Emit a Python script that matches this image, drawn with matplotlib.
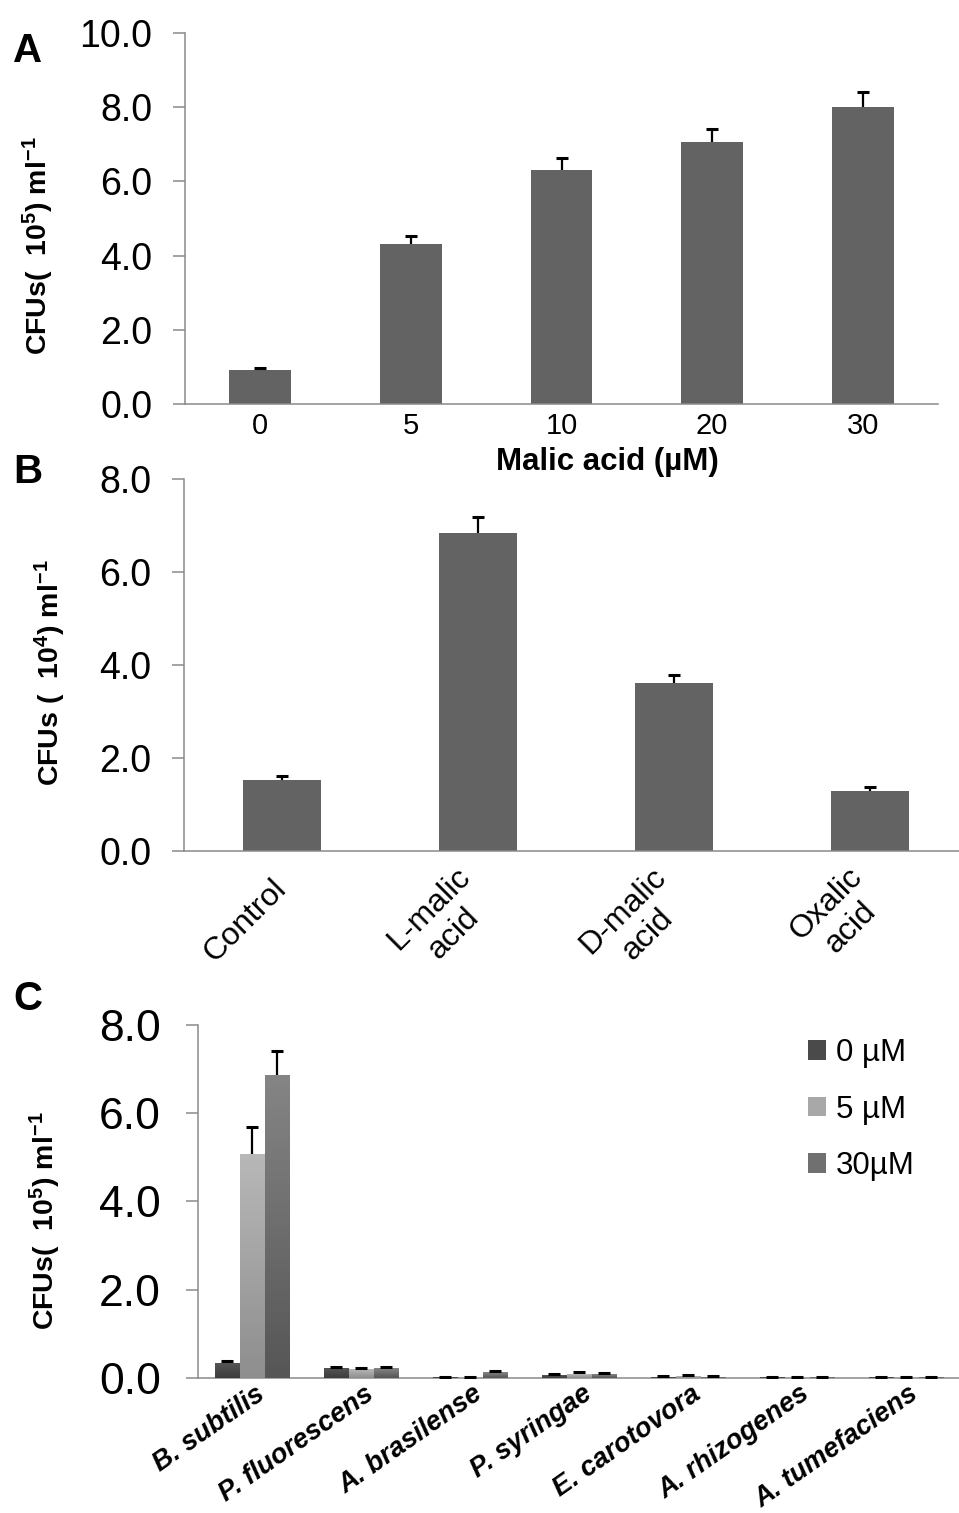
import numpy as np
import matplotlib
matplotlib.use("Agg")
import matplotlib.pyplot as plt
from matplotlib.colors import LinearSegmentedColormap
from matplotlib.patches import Patch
from matplotlib.transforms import ScaledTranslation

plt.rcParams['font.family'] = ['Liberation Sans', 'DejaVu Sans']
plt.rcParams['mathtext.fontset'] = 'custom'
plt.rcParams['mathtext.rm'] = 'Liberation Sans'
plt.rcParams['mathtext.it'] = 'Liberation Sans:italic'
plt.rcParams['mathtext.bf'] = 'Liberation Sans:bold'

# ---------------- data ----------------
a_categories = ["0", "5", "10", "20", "30"]
a_values = [0.92, 4.31, 6.31, 7.06, 8.00]
a_errors = [0.05, 0.22, 0.32, 0.35, 0.41]

b_categories = ["Control", "L-malic\nacid", "D-malic\nacid", "Oxalic\nacid"]
b_values = [1.53, 6.84, 3.61, 1.28]
b_errors = [0.09, 0.35, 0.18, 0.09]

c_categories = ["B. subtilis", "P. fluorescens", "A. brasilense", "P. syringae",
                "E. carotovora", "A. rhizogenes", "A. tumefaciens"]
c_series = ["0 µM", "5 µM", "30µM"]
c_0uM = [0.33, 0.21, 0.01, 0.06, 0.02, 0.01, 0.01]
c_5uM = [5.07, 0.19, 0.01, 0.09, 0.03, 0.005, 0.01]
c_30uM = [6.86, 0.21, 0.12, 0.08, 0.02, 0.005, 0.01]
c_0uM_err = [0.06, 0.03, 0.0, 0.02, 0.02, 0.0, 0.01]
c_5uM_err = [0.62, 0.03, 0.0, 0.04, 0.02, 0.01, 0.01]
c_30uM_err = [0.56, 0.03, 0.03, 0.03, 0.02, 0.01, 0.01]

# ---------------- style ----------------
W, H = 959, 1513
fig = plt.figure(figsize=(W / 100, H / 100), dpi=100)
spine_c = '#8a8a8a'
bar_c = '#636363'


def px_axes(left, top, right, bottom):
    return fig.add_axes([left / W, 1 - bottom / H, (right - left) / W, (bottom - top) / H])


def style_axes(ax, ysize, ypad):
    for s in ['top', 'right']:
        ax.spines[s].set_visible(False)
    for s in ['left', 'bottom']:
        ax.spines[s].set_color(spine_c)
        ax.spines[s].set_linewidth(1.1)
    ax.tick_params(axis='y', length=8.5, width=1.1, color=spine_c, labelsize=ysize,
                   pad=ypad, direction='out')
    ax.tick_params(axis='x', length=0)
    ax.yaxis.set_major_formatter(matplotlib.ticker.FormatStrFormatter('%.1f'))


def err_up(ax, x, vals, errs, cap=8.6):
    x = np.asarray(x, float)
    v = np.asarray(vals, float)
    e = np.asarray(errs, float)
    ax.vlines(x, v, v + e, colors='black', linewidth=1.6, zorder=5)
    ax.plot(x, v + e, ls='none', marker='_', ms=cap, mew=2.2, color='black', zorder=6)


ylab_size = 20.5

# ---------------- Panel A ----------------
axA = px_axes(185, 33, 938, 404)
xa = np.arange(len(a_categories))
axA.bar(xa, a_values, width=0.41, color=bar_c, zorder=2)
err_up(axA, xa, a_values, a_errors)
axA.set_xlim(-0.5, len(a_categories) - 0.5)
axA.set_ylim(0, 10)
axA.set_yticks(np.arange(0, 10.1, 2))
axA.set_xticks(xa)
axA.set_xticklabels(a_categories, fontsize=21)
style_axes(axA, 27, 15)
axA.tick_params(axis='x', pad=6)
axA.text((607 - 185) / 753, (404 - 447) / 371, "Malic acid (µM)", transform=axA.transAxes,
         ha='center', va='top', fontsize=22.5, fontweight='bold')
axA.text((38 - 185) / 753, (404 - 246) / 371,
         r"CFUs(  10$^{\mathbf{5}}$) ml$^{\mathbf{-1}}$", transform=axA.transAxes,
         rotation=90, ha='center', va='center', fontsize=ylab_size, fontweight='bold')

# ---------------- Panel B ----------------
axB = px_axes(184, 479, 968, 851)
xb = np.arange(len(b_categories))
axB.bar(xb, b_values, width=0.40, color=bar_c, zorder=2)
err_up(axB, xb, b_values, b_errors)
axB.set_xlim(-0.5, len(b_categories) - 0.5)
axB.set_ylim(0, 8)
axB.set_yticks(np.arange(0, 8.1, 2))
axB.set_xticks(xb)
axB.set_xticklabels(b_categories, fontsize=23, rotation=45, ha='right', va='center',
                    rotation_mode='anchor', multialignment='center')
style_axes(axB, 27, 15)
axB.tick_params(axis='x', pad=24)
axB.text((50 - 184) / 784, (851 - 673) / 372,
         r"CFUs (  10$^{\mathbf{4}}$) ml$^{\mathbf{-1}}$", transform=axB.transAxes,
         rotation=90, ha='center', va='center', fontsize=ylab_size, fontweight='bold')

# ---------------- Panel C ----------------
axC = px_axes(197.7, 1025, 960.7, 1377.7)
xc = np.arange(len(c_categories))
bw = 0.228
series_vals = [c_0uM, c_5uM, c_30uM]
series_errs = [c_0uM_err, c_5uM_err, c_30uM_err]
tops = ['#555555', '#b8b8b8', '#858585']
bots = ['#3c3c3c', '#8e8e8e', '#565656']
mids = ['#4a4a4a', '#a8a8a8', '#707070']
handles = []
for i, (vals, errs) in enumerate(zip(series_vals, series_errs)):
    pos = xc + (i - 1) * bw
    bars = axC.bar(pos, vals, width=bw, color=mids[i], zorder=2)
    cmap = LinearSegmentedColormap.from_list('g%d' % i, [bots[i], tops[i]])
    for b in bars:
        h = b.get_height()
        if h <= 0:
            continue
        x0 = b.get_x()
        grad = np.linspace(0, 1, 128).reshape(-1, 1)
        axC.imshow(grad, extent=[x0, x0 + b.get_width(), 0, h], origin='lower',
                   aspect='auto', cmap=cmap, zorder=3, interpolation='bilinear')
    err_up(axC, pos, vals, errs, cap=8.0)
    handles.append(Patch(facecolor=mids[i], edgecolor='none', label=c_series[i]))
axC.set_xlim(-0.5, len(c_categories) - 0.5)
axC.set_ylim(0, 8)
axC.set_aspect('auto')
axC.set_yticks(np.arange(0, 8.1, 2))
axC.set_xticks(xc)
axC.set_xticklabels(c_categories, fontsize=19.5, rotation=35, ha='right', va='center',
                    rotation_mode='anchor', fontweight='bold', fontstyle='italic')
style_axes(axC, 32, 18)
axC.tick_params(axis='x', pad=10)
shift = ScaledTranslation(10 / 100, 0, fig.dpi_scale_trans)
for lbl in axC.get_xticklabels():
    lbl.set_transform(lbl.get_transform() + shift)
axC.text((45 - 197.7) / 763, (1377.7 - 1221) / 352.7,
         r"CFUs(  10$^{\mathbf{5}}$) ml$^{\mathbf{-1}}$", transform=axC.transAxes,
         rotation=90, ha='center', va='center', fontsize=ylab_size, fontweight='bold')
axC.legend(handles=handles, loc='upper left',
           bbox_to_anchor=((808 - 197.7) / 763, (1377.7 - 1038) / 352.7),
           frameon=False, fontsize=22.5, handlelength=0.58, handleheight=0.58,
           handletextpad=0.3, labelspacing=0.85, borderaxespad=0, borderpad=0)

# ---------------- panel letters ----------------
for letter, (cx, cy) in zip("ABC", [(28, 51), (28, 472), (28, 999)]):
    fig.text(cx / W, 1 - cy / H, letter, ha='center', va='center', fontsize=29,
             fontweight='bold')

fig.savefig("out.png", dpi=100)
